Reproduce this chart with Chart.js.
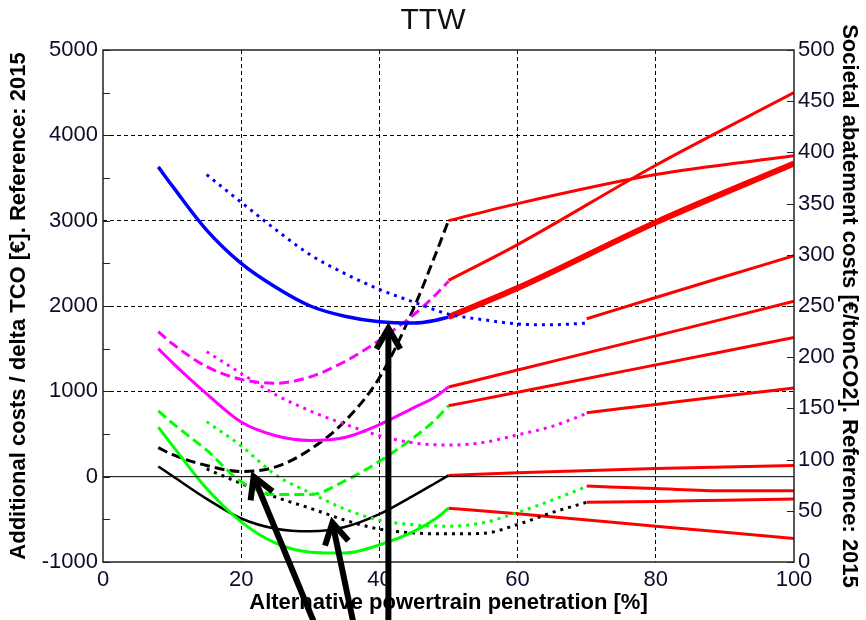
<!DOCTYPE html>
<html>
<head>
<meta charset="utf-8">
<script src="https://cdn.jsdelivr.net/npm/chart.js@4.4.0/dist/chart.umd.min.js"></script>
<style>
body { margin: 0; background: #fff; }
#wrap { width: 866px; height: 620px; }
</style>
</head>
<body>
<div id="wrap"><canvas id="ttw"></canvas></div>
<script>
// penetration [%] where the solid/dashed and the dotted curves are read
var xLow = [8, 10, 15, 20, 25, 30, 35, 40, 45, 48, 50];
var xDot = [15, 20, 25, 30, 35, 40, 45, 50, 55, 60, 65, 70];

// additional costs [EUR] on xLow
var blueSolid    = [3630, 3410, 2890, 2500, 2220, 2000, 1880, 1815, 1800, 1830, 1870];
var magentaDash  = [1700, 1560, 1290, 1140, 1095, 1170, 1350, 1600, 1900, 2120, 2290];
var magentaSolid = [1500, 1340, 970, 640, 480, 425, 460, 610, 810, 930, 1050];
var blackDash    = [340, 260, 130, 60, 115, 320, 650, 1160, 1980, 2580, 3000];
var blackSolid   = [120, 10, -260, -490, -610, -640, -590, -440, -220, -80, 15];
var greenDash    = [770, 630, 310, -60, -210, -210, -50, 180, 460, 660, 830];
var greenSolid   = [580, 370, -140, -530, -780, -885, -895, -800, -640, -500, -370];

// additional costs [EUR] on xDot
var blueDot    = [3540, 3215, 2895, 2600, 2380, 2195, 2045, 1905, 1840, 1790, 1780, 1800];
var magentaDot = [1465, 1210, 960, 770, 615, 480, 395, 370, 400, 490, 590, 740];
var greenDot   = [645, 360, 20, -190, -380, -510, -565, -580, -540, -420, -275, -115];
var blackDot   = [90, -80, -240, -370, -510, -615, -660, -670, -665, -560, -420, -300];

// red continuations
var xRed50 = [50, 60, 80, 100];
var redBlackDash   = [3000, 3200, 3540, 3760];
var redMagentaDash = [2300, 2720, 3650, 4500];
var redBlue        = [1870, 2210, 2980, 3670];
var redMagenta     = [1050, 1250, 1650, 2055];
var redGreenDash   = [830, 990, 1310, 1630];
var redBlack       = [15, 45, 95, 130];
var redGreen       = [-370, -435, -580, -725];
var xRed70 = [70, 80, 90, 100];
var redBlueDot     = [1850, 2100, 2345, 2590];
var redMagentaDot  = [750, 847, 944, 1040];
var redGreenDot    = [-110, -140, -165, -165];
var redBlackDot    = [-300, -290, -276, -262];

// annotation arrows: [tip x, tip y, tail x, tail y] in axis units
var arrows = [[21.8, 0, 30.5, -1700], [33.2, -540, 36.2, -1700], [41.3, 1740, 41.3, -1700]];

var DASH = [10, 5];
var DOT = [3, 5];
var ink = '#0d0d2b';

function pts(xs, ys) {
  return xs.map(function (x, i) { return { x: x, y: ys[i] }; });
}

function curve(xs, ys, color, dash, width) {
  return {
    data: pts(xs, ys),
    borderColor: color,
    borderDash: dash || [],
    borderWidth: width || 3,
    pointRadius: 0,
    fill: false,
    cubicInterpolationMode: 'monotone'
  };
}

var datasets = [
  curve([0, 100], [0, 0], '#000', [], 1),
  curve(xLow, blueSolid, '#0000ff', [], 3.5),
  curve(xDot, blueDot, '#0000ff', DOT),
  curve(xLow, magentaDash, '#ff00ff', DASH),
  curve(xLow, magentaSolid, '#ff00ff'),
  curve(xDot, magentaDot, '#ff00ff', DOT),
  curve(xLow, greenDash, '#00ff00', DASH),
  curve(xLow, greenSolid, '#00ff00'),
  curve(xDot, greenDot, '#00ff00', DOT),
  curve(xLow, blackDash, '#000', DASH),
  curve(xLow, blackSolid, '#000', [], 2.5),
  curve(xDot, blackDot, '#000', DOT),
  curve(xRed50, redBlackDash, '#ff0000'),
  curve(xRed50, redMagentaDash, '#ff0000'),
  curve(xRed50, redBlue, '#ff0000', [], 6),
  curve(xRed50, redMagenta, '#ff0000'),
  curve(xRed50, redGreenDash, '#ff0000'),
  curve(xRed50, redBlack, '#ff0000'),
  curve(xRed50, redGreen, '#ff0000'),
  curve(xRed70, redBlueDot, '#ff0000'),
  curve(xRed70, redMagentaDot, '#ff0000'),
  curve(xRed70, redGreenDot, '#ff0000'),
  curve(xRed70, redBlackDot, '#ff0000')
];

function drawArrow(ctx, x1, y1, x2, y2) {
  var ang = Math.atan2(y2 - y1, x2 - x1);
  var len = 24, spread = 0.52;
  ctx.beginPath();
  ctx.moveTo(x1, y1);
  ctx.lineTo(x2, y2);
  ctx.stroke();
  ctx.beginPath();
  ctx.moveTo(x2 - len * Math.cos(ang - spread), y2 - len * Math.sin(ang - spread));
  ctx.lineTo(x2, y2);
  ctx.lineTo(x2 - len * Math.cos(ang + spread), y2 - len * Math.sin(ang + spread));
  ctx.stroke();
}

var frame = {
  id: 'frame',
  afterDraw: function (chart) {
    var ctx = chart.ctx, a = chart.chartArea;
    var x = chart.scales.x, y = chart.scales.y, y2 = chart.scales.y2;
    var v, p;
    ctx.save();
    ctx.strokeStyle = '#222';
    ctx.lineWidth = 1.5;
    ctx.strokeRect(a.left, a.top, a.right - a.left, a.bottom - a.top);
    ctx.lineWidth = 1;
    ctx.beginPath();
    for (v = -1000; v <= 5000; v += 500) {
      p = Math.round(y.getPixelForValue(v)) + 0.5;
      ctx.moveTo(a.left, p); ctx.lineTo(a.left + 7, p);
    }
    for (v = 0; v <= 500; v += 50) {
      p = Math.round(y2.getPixelForValue(v)) + 0.5;
      ctx.moveTo(a.right - 7, p); ctx.lineTo(a.right, p);
    }
    ctx.stroke();

    // arrows
    ctx.strokeStyle = '#000';
    ctx.lineWidth = 6;
    ctx.lineJoin = 'miter';
    ctx.lineCap = 'butt';
    arrows.forEach(function (ar) {
      drawArrow(ctx, x.getPixelForValue(ar[2]), y.getPixelForValue(ar[3]),
        x.getPixelForValue(ar[0]), y.getPixelForValue(ar[1]));
    });
    ctx.restore();
  }
};

function plain(v) { return String(v); }

Chart.defaults.font.family = '"Liberation Sans", Arial, sans-serif';

new Chart(document.getElementById('ttw'), {
  type: 'line',
  data: { datasets: datasets },
  plugins: [frame],
  options: {
    responsive: true,
    maintainAspectRatio: false,
    animation: false,
    layout: { padding: 0 },
    plugins: {
      legend: { display: false },
      tooltip: { enabled: false },
      title: {
        display: true,
        text: 'TTW',
        color: '#111',
        font: { size: 30, weight: 'normal' },
        padding: { top: 3, bottom: 11 }
      }
    },
    scales: {
      x: {
        type: 'linear',
        min: 0,
        max: 100,
        ticks: { stepSize: 20, color: ink, font: { size: 22 }, padding: 5, callback: plain },
        grid: {
          drawTicks: false,
          lineWidth: 1,
          color: function (c) { return (c.tick && (c.tick.value === 0 || c.tick.value === 100)) ? 'rgba(0,0,0,0)' : '#000'; }
        },
        border: { display: false, dash: [4, 3] },
        title: {
          display: true,
          text: 'Alternative powertrain penetration [%]',
          color: '#000',
          font: { size: 22, weight: 'bold' },
          padding: { top: 0, bottom: 4 }
        },
        afterFit: function (s) { s.height = 58; }
      },
      y: {
        min: -1000,
        max: 5000,
        ticks: { stepSize: 1000, color: ink, font: { size: 22 }, padding: 5, callback: plain },
        grid: {
          drawTicks: false,
          lineWidth: 1,
          color: function (c) {
            var v = c.tick ? c.tick.value : null;
            return (v === 0 || v === -1000 || v === 5000) ? 'rgba(0,0,0,0)' : '#000';
          }
        },
        border: { display: false, dash: [4, 3] },
        title: {
          display: true,
          text: 'Additional costs / delta TCO [€]. Reference: 2015',
          color: '#000',
          font: { size: 22, weight: 'bold' },
          padding: { top: 6, bottom: 0 }
        },
        afterFit: function (s) { s.width = 103; }
      },
      y2: {
        position: 'right',
        min: 0,
        max: 500,
        ticks: { stepSize: 50, color: ink, font: { size: 22 }, padding: 4, callback: plain },
        grid: { drawOnChartArea: false, drawTicks: false },
        border: { display: false },
        title: {
          display: true,
          text: 'Societal abatement costs [€/tonCO2]. Reference: 2015',
          color: '#000',
          font: { size: 22, weight: 'bold' },
          padding: { top: 4, bottom: 0 }
        },
        afterFit: function (s) { s.width = 72; }
      }
    }
  }
});
</script>
</body>
</html>
